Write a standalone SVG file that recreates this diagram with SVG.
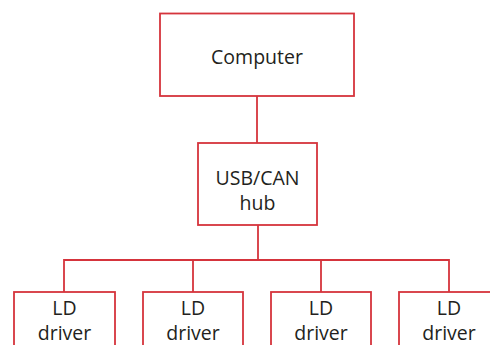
<svg xmlns="http://www.w3.org/2000/svg" width="490" height="345" viewBox="0 0 490 345">
<style>
.box{fill:#fff;stroke:#d5343c;stroke-width:1.8}
.ln{fill:none;stroke:#d5343c;stroke-width:1.8}
text{font-family:"Open Sans","Noto Sans",sans-serif;font-size:19.5px;fill:#231f20;text-anchor:middle}
</style>
<rect width="490" height="345" fill="#fff"/>
<g id="connectors">
<line class="ln" x1="257" y1="96" x2="257" y2="143"/>
<line class="ln" x1="258" y1="225" x2="258" y2="260"/>
<polyline class="ln" points="64,292 64,260 449,260 449,292"/>
<line class="ln" x1="193" y1="260" x2="193" y2="292"/>
<line class="ln" x1="321" y1="260" x2="321" y2="292"/>
</g>
<g id="computer">
<rect class="box" x="160" y="13.5" width="194" height="82.5"/>
<text x="257" y="63.5">Computer</text>
</g>
<g id="hub">
<rect class="box" x="198" y="143" width="119" height="82"/>
<text x="257.5" y="185">USB/CAN</text>
<text x="257.5" y="210">hub</text>
</g>
<g id="ld1">
<rect class="box" x="14" y="292" width="101" height="70"/>
<text x="64.5" y="315">LD</text>
<text x="64.5" y="340">driver</text>
</g>
<g id="ld2">
<rect class="box" x="143" y="292" width="100" height="70"/>
<text x="193" y="315">LD</text>
<text x="193" y="340">driver</text>
</g>
<g id="ld3">
<rect class="box" x="271" y="292" width="100" height="70"/>
<text x="321" y="315">LD</text>
<text x="321" y="340">driver</text>
</g>
<g id="ld4">
<rect class="box" x="399" y="292" width="100" height="70"/>
<text x="449" y="315">LD</text>
<text x="449" y="340">driver</text>
</g>
</svg>
